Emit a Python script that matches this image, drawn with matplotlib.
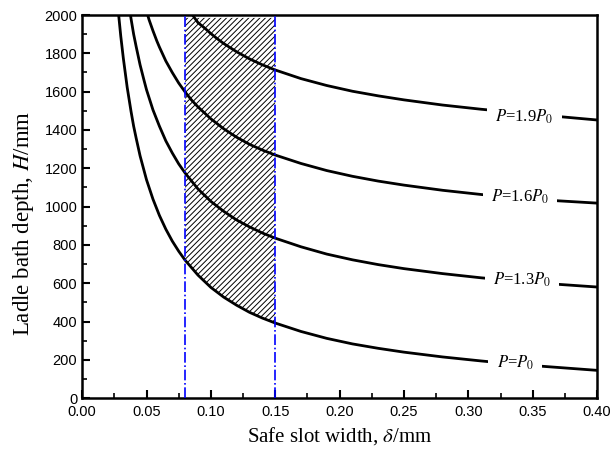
import numpy as np
import matplotlib
matplotlib.use('Agg')
import matplotlib.pyplot as plt

plt.rcParams['mathtext.fontset'] = 'stix'
plt.rcParams['hatch.linewidth'] = 0.7

# values
x_p10 = [0.028, 0.03, 0.032, 0.035, 0.038, 0.04, 0.042, 0.045, 0.05, 0.055, 0.06, 0.065, 0.07,
         0.075, 0.08, 0.09, 0.10, 0.11, 0.12, 0.13, 0.14, 0.15, 0.17, 0.19, 0.21, 0.23, 0.25,
         0.28, 0.31, 0.34, 0.37, 0.40]
h_p10 = [2025, 1890, 1774, 1622, 1496, 1420, 1356, 1265, 1140, 1039, 954, 882, 820,
         767, 720, 642, 578, 527, 485, 448, 418, 392, 348, 312, 283, 260, 240,
         215, 194, 175, 160, 145]

x_p13 = [0.036, 0.038, 0.04, 0.042, 0.045, 0.048, 0.05, 0.055, 0.06, 0.065, 0.07, 0.075, 0.08,
         0.09, 0.10, 0.11, 0.12, 0.13, 0.14, 0.15, 0.17, 0.19, 0.21, 0.23, 0.25, 0.28, 0.31,
         0.34, 0.37, 0.40]
h_p13 = [2070, 1980, 1900, 1834, 1740, 1661, 1610, 1505, 1420, 1343, 1280, 1223, 1175,
         1092, 1027, 975, 930, 894, 862, 835, 790, 752, 722, 697, 676, 650, 628,
         610, 594, 580]

x_p16 = [0.05, 0.052, 0.055, 0.058, 0.06, 0.065, 0.07, 0.075, 0.08, 0.085, 0.09, 0.10, 0.11,
         0.12, 0.13, 0.14, 0.15, 0.17, 0.19, 0.21, 0.23, 0.25, 0.28, 0.31, 0.34, 0.37, 0.40]
h_p16 = [2020, 1975, 1918, 1865, 1833, 1760, 1700, 1645, 1598, 1556, 1520, 1458, 1406,
         1362, 1325, 1295, 1269, 1225, 1188, 1158, 1133, 1112, 1085, 1063, 1044, 1030, 1018]

x_p19 = [0.084, 0.087, 0.09, 0.095, 0.10, 0.105, 0.11, 0.12, 0.13, 0.14, 0.15, 0.17, 0.19,
         0.21, 0.23, 0.25, 0.28, 0.31, 0.34, 0.37, 0.40]
h_p19 = [2020, 1988, 1960, 1933, 1903, 1876, 1851, 1808, 1771, 1740, 1713, 1668, 1632,
         1602, 1578, 1557, 1530, 1508, 1489, 1470, 1452]

safe_lo, safe_hi = 0.08, 0.15
labels = [r'$P$=$P_0$', r'$P$=1.3$P_0$', r'$P$=1.6$P_0$', r'$P$=1.9$P_0$']
label_x = [0.3364, 0.3418, 0.340, 0.3434]
label_y = [183, 616, 1050, 1467]

fig = plt.figure(figsize=(6.13, 4.55), dpi=100)
ax = fig.add_axes([0.134, 0.125, 0.84, 0.842])

for xs, hs in [(x_p10, h_p10), (x_p13, h_p13), (x_p16, h_p16), (x_p19, h_p19)]:
    ax.plot(xs, hs, color='black', lw=2.0, zorder=3, solid_joinstyle='round')

# hatched safe zone
xa = np.array(x_p10)
ha = np.array(h_p10)
m = (xa >= safe_lo) & (xa <= safe_hi)
ax.fill_between(xa[m], ha[m], 1985, facecolor='none', edgecolor='black',
                hatch='//////', lw=0, zorder=2)

for xv in (safe_lo, safe_hi):
    ax.axvline(xv, color='blue', ls='-.', lw=1.2, zorder=4)

for t, lx, ly in zip(labels, label_x, label_y):
    ax.text(lx, ly, t, fontsize=12, family='Liberation Serif', ha='center', va='center',
            zorder=5, bbox=dict(boxstyle='square,pad=0.5', fc='white', ec='none'))

ax.set_xlim(0, 0.40)
ax.set_ylim(0, 2000)
ax.set_xticks(np.arange(0, 0.401, 0.05))
ax.set_xticks(np.arange(0, 0.401, 0.025), minor=True)
ax.set_yticks(np.arange(0, 2001, 200))
ax.set_yticks(np.arange(0, 2001, 100), minor=True)
ax.set_xticklabels(['%.2f' % v for v in np.arange(0, 0.401, 0.05)])
for lab in ax.get_xticklabels() + ax.get_yticklabels():
    lab.set_family('Liberation Sans')
    lab.set_fontsize(10.5)
ax.tick_params(which='major', direction='in', length=6, width=1.5, top=False, right=False)
ax.tick_params(axis='x', which='major', pad=5)
ax.tick_params(which='minor', direction='in', length=3.5, width=1.2, top=False, right=False)
for s in ax.spines.values():
    s.set_linewidth(1.8)

ax.set_xlabel(r'Safe slot width, $\delta$/mm', family='Liberation Serif', fontsize=15)
ax.set_ylabel(r'Ladle bath depth, $H$/mm', family='Liberation Serif', fontsize=16.5)
ax.yaxis.set_label_coords(-0.089, 0.455)

plt.savefig('out.png', dpi=100)
